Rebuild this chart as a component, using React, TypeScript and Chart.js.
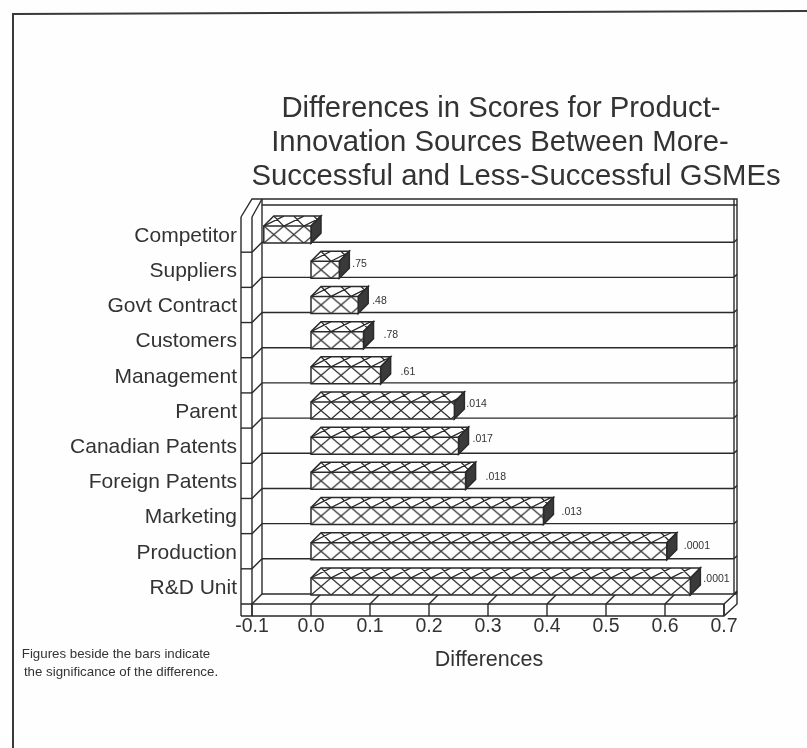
import React, { useEffect, useRef } from "react";
import { Chart, registerables } from "chart.js";

Chart.register(...registerables);

const categories = ["Competitor","Suppliers","Govt Contract","Customers","Management","Parent","Canadian Patents","Foreign Patents","Marketing","Production","R&D Unit"];
const differences = [-0.08,0.048,0.08,0.089,0.118,0.243,0.25,0.262,0.394,0.603,0.643];
const significance = ["",".75",".48",".78",".61",".014",".017",".018",".013",".0001",".0001"];
const xTicks = [-0.1,0,0.1,0.2,0.3,0.4,0.5,0.6,0.7];
const titleLines = ["Differences in Scores for Product-","Innovation Sources Between More-","Successful and Less-Successful GSMEs"];
const noteLines = ["Figures beside the bars indicate","the significance of the difference."];
const axisTitle = "Differences";

const INK = "#2a2a2a";
const PAPER = "#fefefe";
const DEPTH = 10;
const FONT = "'Liberation Sans', Arial, sans-serif";
// hand-placed label nudges (dx from the bar's back edge, dy from the row centre)
const labelDx = [0,3,4,10,10,2,4,10,8,7,3];
const labelDy = [0,-6,-4,-5,-3,-6,-7,-4,-4,-5,-7];

function makeHatch(ctx: CanvasRenderingContext2D) {
  const c = document.createElement("canvas");
  c.width = 20; c.height = 17;
  const g = c.getContext("2d")!;
  g.fillStyle = "#ffffff"; g.fillRect(0,0,20,17);
  g.strokeStyle = "#2a2a2a"; g.lineWidth = 1.3;
  g.beginPath();
  g.moveTo(0,0); g.lineTo(20,17);
  g.moveTo(20,0); g.lineTo(0,17);
  g.stroke();
  return ctx.createPattern(c,"repeat")!;
}

function line(ctx: CanvasRenderingContext2D, pts: number[][]) {
  ctx.beginPath();
  pts.forEach((p,i)=> i ? ctx.lineTo(p[0],p[1]) : ctx.moveTo(p[0],p[1]));
  ctx.stroke();
}

const stagePlugin = {
  id: "stage",
  beforeDatasetsDraw(chart: any) {
    const { ctx, chartArea: a, scales } = chart;
    const x = scales.x;
    ctx.save();
    ctx.strokeStyle = INK; ctx.lineWidth = 1.4;
    const L = a.left, R = a.right, T = a.top, B = a.bottom, D = DEPTH;
    const plate = 12;
    line(ctx,[[L-plate+1,B],[R,B],[R+D+3,B-D-2],[R+D+3,T-D-8],[L+D,T-D-8]]);
    line(ctx,[[L-plate+1,B+plate],[R,B+plate],[R+D+3,B+plate-D-2],[R+D+3,B-D-2]]);
    line(ctx,[[R,B],[R,B+plate]]);
    line(ctx,[[L+D,B-D],[R+D+3,B-D]]);
    line(ctx,[[R+D,T-D-8],[R+D,B-D]]);
    line(ctx,[[L+D,T-D-2],[R+D+3,T-D-2]]);
    line(ctx,[[L-plate+1,T],[L-plate+1,B+plate]]);
    line(ctx,[[L,T],[L,B+plate]]);
    line(ctx,[[L+D,T-D-8],[L+D,B-D]]);
    line(ctx,[[L-plate+1,T],[L,T-D-8],[L+D,T-D-8]]);
    line(ctx,[[L,T],[L+D,T-D-8]]);
    line(ctx,[[L,B],[L+D,B-D]]);
    xTicks.forEach((v)=>{
      const px = x.getPixelForValue(v);
      line(ctx,[[px,B],[px,B+plate]]);
      if (v > -0.1 && v < 0.7) line(ctx,[[px,B],[px+D,B-D]]);
    });
    const band = (B-T)/categories.length;
    categories.forEach((_,i)=>{
      const yy = T + band*(i+1);
      if (i < categories.length-1) {
        line(ctx,[[L+D,yy-D],[R+D,yy-D]]);
        line(ctx,[[L,yy],[L+D,yy-D]]);
        line(ctx,[[L-plate+1,yy],[L,yy]]);
      }
      line(ctx,[[R+D,yy-D],[R+D+3,yy-D-3]]);
    });
    ctx.restore();
  },
  afterDatasetsDraw(chart: any) {
    const { ctx, scales } = chart;
    const meta = chart.getDatasetMeta(0);
    const zero = scales.x.getPixelForValue(0);
    ctx.save();
    const hatch = makeHatch(ctx);
    meta.data.forEach((bar: any, i: number) => {
      const h = bar.height;
      const top = bar.y - h/2, bot = bar.y + h/2;
      const x0 = Math.min(bar.x, zero), x1 = Math.max(bar.x, zero);
      const D = DEPTH;
      ctx.save();
      ctx.beginPath();
      ctx.moveTo(x0,top); ctx.lineTo(x1,top); ctx.lineTo(x1+D,top-D); ctx.lineTo(x0+D,top-D); ctx.closePath();
      ctx.fillStyle = "#fff"; ctx.fill();
      ctx.clip();
      ctx.strokeStyle = INK; ctx.lineWidth = 1.3;
      ctx.beginPath();
      for (let k = -1; k*20 < x1-x0+40; k++) {
        const sx = x0 + k*20;
        ctx.moveTo(sx,top); ctx.lineTo(sx+20,top-D);
        ctx.moveTo(sx+20,top); ctx.lineTo(sx+10,top-D);
      }
      ctx.stroke();
      ctx.restore();
      ctx.strokeStyle = INK; ctx.lineWidth = 1.5;
      line(ctx,[[x0,top],[x0+D,top-D],[x1+D,top-D],[x1,top]]);
      ctx.beginPath();
      ctx.moveTo(x1,top); ctx.lineTo(x1+D,top-D); ctx.lineTo(x1+D,bot-D); ctx.lineTo(x1,bot); ctx.closePath();
      ctx.fillStyle = "#3a3a3a"; ctx.fill(); ctx.stroke();
      hatch.setTransform(new DOMMatrix().translate(x0, top));
      ctx.beginPath(); ctx.rect(x0,top,x1-x0,h);
      ctx.fillStyle = hatch; ctx.fill(); ctx.stroke();
      if (significance[i]) {
        ctx.fillStyle = "#333";
        ctx.font = `10.5px ${FONT}`;
        ctx.textAlign = "left"; ctx.textBaseline = "middle";
        ctx.fillText(significance[i], x1+D+labelDx[i], bar.y+labelDy[i]);
      }
    });
    ctx.restore();
  },
  afterDraw(chart: any) {
    const { ctx, width, height } = chart;
    ctx.save();
    ctx.strokeStyle = "#3a3a3a"; ctx.lineWidth = 2;
    ctx.beginPath();
    ctx.moveTo(13,height); ctx.lineTo(13,14); ctx.lineTo(width,11);
    ctx.stroke();
    ctx.fillStyle = "#333";
    ctx.textBaseline = "middle"; ctx.textAlign = "center";
    ctx.font = `29.3px ${FONT}`;
    const centres = [501,500,516];
    titleLines.forEach((t,i)=> ctx.fillText(t, centres[i], 108.5+i*34));
    ctx.font = `21.5px ${FONT}`;
    ctx.fillText(axisTitle, 489, 660);
    ctx.font = `13.3px ${FONT}`;
    ctx.fillText(noteLines[0], 116, 654);
    ctx.fillText(noteLines[1], 121, 672);
    ctx.restore();
  },
};

export default function App() {
  const ref = useRef<HTMLCanvasElement>(null);
  useEffect(() => {
    const chart = new Chart(ref.current!, {
      type: "bar",
      data: {
        labels: categories,
        datasets: [{ data: differences, backgroundColor: "rgba(0,0,0,0)", borderWidth: 0, barThickness: 17 }],
      },
      options: {
        indexAxis: "y",
        animation: false,
        responsive: false,
        layout: { padding: { left: 0, top: 217, right: 807 - 724, bottom: 100 } },
        plugins: { legend: { display: false }, title: { display: false }, tooltip: { enabled: false } },
        scales: {
          x: {
            type: "linear", min: -0.1, max: 0.7,
            afterBuildTicks: (s: any) => { s.ticks = xTicks.map((value) => ({ value })); },
            afterFit: (s: any) => { s.height = 44; },
            grid: { display: false }, border: { display: false },
            ticks: { color: "#333", font: { size: 19.5, family: FONT }, padding: 3, maxRotation: 0, autoSkip: false, callback: (v: any) => Number(v).toFixed(1) },
          },
          y: {
            grid: { display: false }, border: { display: false },
            afterFit: (s: any) => { s.width = 252; },
            ticks: { color: "#333", font: { size: 21, family: FONT }, padding: 7, autoSkip: false, labelOffset: 1.5 },
          },
        },
      } as any,
      plugins: [stagePlugin as any],
    });
    return () => chart.destroy();
  }, []);
  return (
    <div style={{ position: "fixed", inset: 0, background: PAPER }}>
      <canvas ref={ref} width={807} height={748} style={{ display: "block" }} />
    </div>
  );
}
